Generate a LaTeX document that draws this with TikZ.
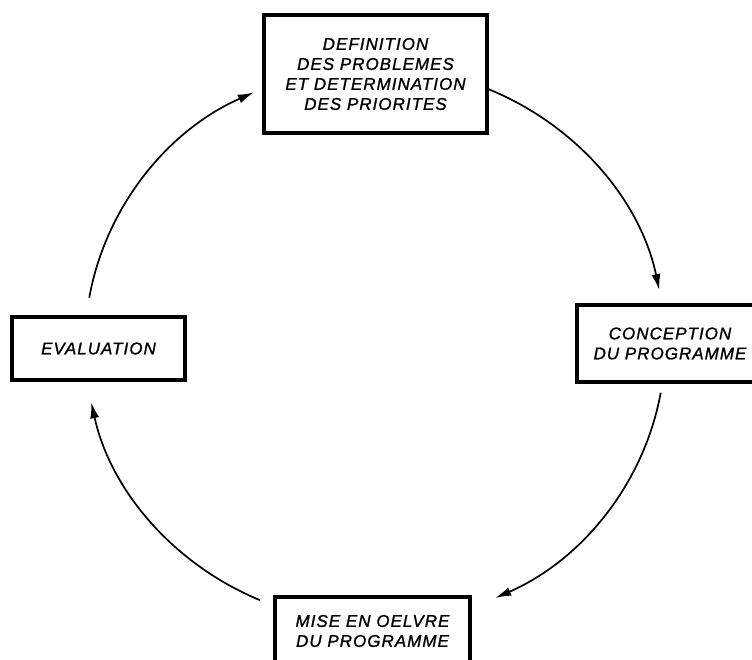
\documentclass[tikz,border=0pt]{standalone}
\usepackage{fontspec}
\setmainfont{Liberation Sans}[LetterSpace=6,FakeBold=1.2]
\usetikzlibrary{arrows.meta}
\begin{document}
\begin{tikzpicture}[x=1pt,y=1pt,
  box/.style={draw, line width=3.2pt, rectangle, align=center, inner sep=0pt,
    font=\fontsize{17}{20}\selectfont\itshape},
  arr/.style={line width=1.7pt, -{Latex[length=16pt,width=9pt]}}]
\useasboundingbox (0,0) rectangle (752,660);
\clip (0,0) rectangle (752,660);
\coordinate (c) at (375,315);
\node[box, minimum width=223pt, minimum height=118pt] (def) at (375.5,586)
  {DEFINITION\\DES PROBLEMES\\ET DETERMINATION\\DES PRIORITES};
\node[box, minimum width=186pt, minimum height=77pt] (conc) at (670,316.5)
  {CONCEPTION\\DU PROGRAMME};
\node[box, minimum width=173pt, minimum height=63pt] (eval) at (98.5,311.5)
  {EVALUATION};
\node[box, minimum width=195pt, minimum height=68pt] (mise) at (372.5,29)
  {MISE EN OELVRE\\DU PROGRAMME};
\coordinate (s1) at ([shift={(67.3:290pt and 278pt)}]c);
\coordinate (s2) at ([shift={(-9.9:290pt and 278pt)}]c);
\coordinate (s3) at ([shift={(246.6:290pt and 278pt)}]c);
\coordinate (s4) at ([shift={(170.2:290pt and 278pt)}]c);
\draw[arr] (s1) arc[start angle=67.3, end angle=11.4, x radius=290pt, y radius=278pt];
\draw[arr] (s2) arc[start angle=-9.9, end angle=-65.5, x radius=290pt, y radius=278pt];
\draw[arr] (s3) arc[start angle=246.6, end angle=191.9, x radius=290pt, y radius=278pt];
\draw[arr] (s4) arc[start angle=170.2, end angle=114.7, x radius=290pt, y radius=278pt];
\end{tikzpicture}
\end{document}
